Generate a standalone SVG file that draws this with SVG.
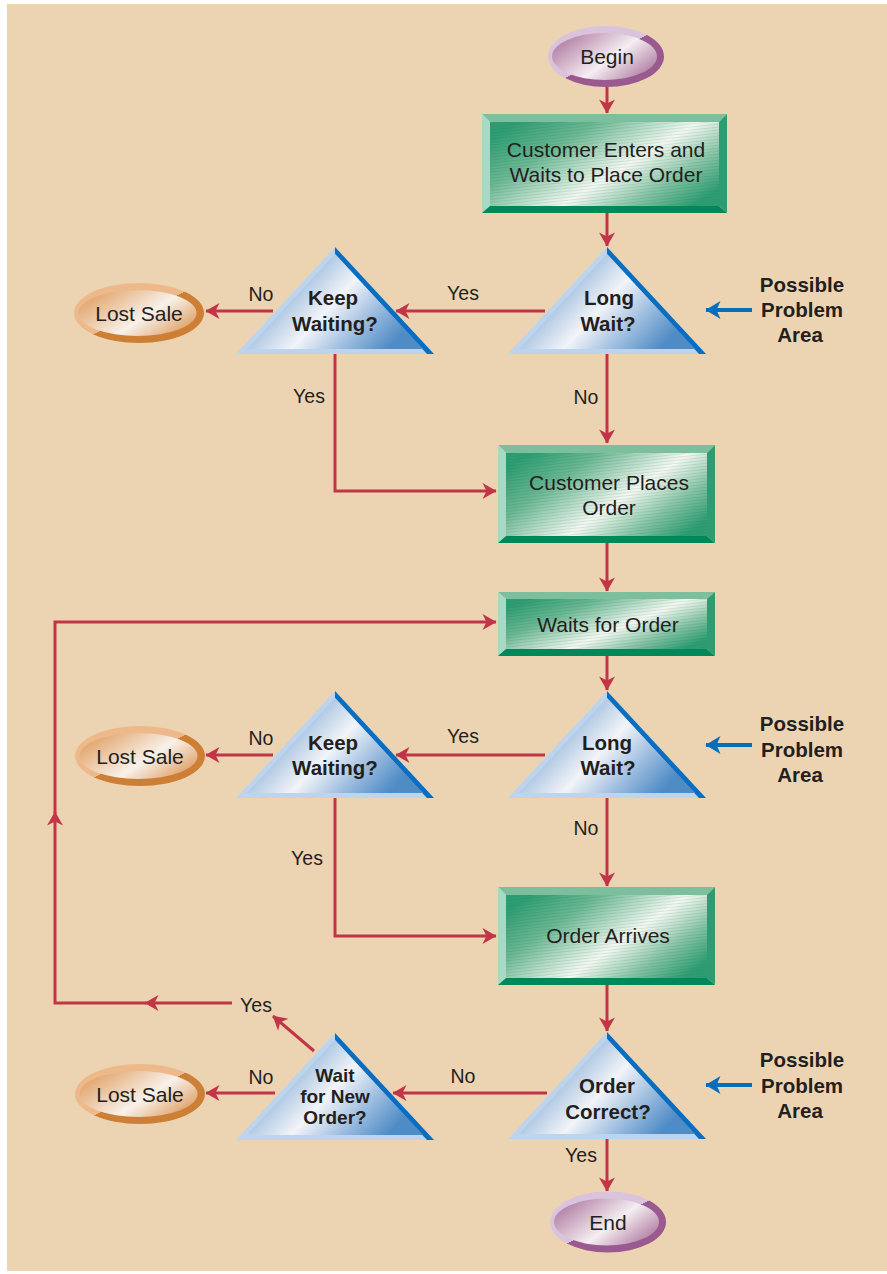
<svg xmlns="http://www.w3.org/2000/svg" xmlns:xlink="http://www.w3.org/1999/xlink" width="887" height="1274" viewBox="0 0 887 1274">
<style>
.t{font-family:"Liberation Sans",Arial,Helvetica,sans-serif;font-size:21px;fill:#231F20;text-anchor:middle}
.b{font-weight:bold;font-size:20.5px}
.s{font-size:19px}
.l{font-size:19.5px}
.c{fill:none;stroke:#C23448;stroke-width:3;marker-end:url(#ah)}
.bl{fill:none;stroke:#0A6DB8;stroke-width:4;marker-end:url(#bh)}
.bt{fill:#7DBE9C}.bl2{fill:#A9D9C4}.bb{fill:#00875A}.br{fill:#2E9B72}
.face{fill:url(#gface)}
.stripe{fill:url(#stripes)}
</style>
<defs>
<marker id="ah" markerUnits="userSpaceOnUse" markerWidth="16" markerHeight="16" viewBox="0 0 14 16" refX="13.5" refY="8" orient="auto">
<path d="M0,0 L14,8 L0,16 L4,8 Z" fill="#C23448"/>
</marker>
<marker id="bh" markerUnits="userSpaceOnUse" markerWidth="18" markerHeight="18" viewBox="0 0 15 18" refX="14.5" refY="9" orient="auto">
<path d="M0,0 L15,9 L0,18 L4,9 Z" fill="#0A6DB8"/>
</marker>
<linearGradient id="gface" x1="0" y1="0.2" x2="1" y2="0.8">
<stop offset="0" stop-color="#2F9D73"/>
<stop offset="0.25" stop-color="#6BB793"/>
<stop offset="0.58" stop-color="#F5F8F2"/>
<stop offset="0.8" stop-color="#86C3A5"/>
<stop offset="1" stop-color="#2F9D73"/>
</linearGradient>
<pattern id="stripes" patternUnits="userSpaceOnUse" width="6" height="3" patternTransform="rotate(-6)">
<rect width="6" height="1" fill="#0A6B45" fill-opacity="0.12"/>
</pattern>
<linearGradient id="gtri" x1="0" y1="0.1" x2="1" y2="0.6">
<stop offset="0" stop-color="#6E9BCD"/>
<stop offset="0.3" stop-color="#A0BEDF"/>
<stop offset="0.56" stop-color="#F2F4F8"/>
<stop offset="0.8" stop-color="#97B9DD"/>
<stop offset="1" stop-color="#4F8CC6"/>
</linearGradient>
<linearGradient id="gpRing" x1="0" y1="0" x2="1" y2="1">
<stop offset="0.5" stop-color="#DAC3DC"/>
<stop offset="0.5" stop-color="#9B5A8F"/>
</linearGradient>
<linearGradient id="gpFace" x1="0" y1="0.2" x2="1" y2="0.8">
<stop offset="0" stop-color="#AE789F"/>
<stop offset="0.56" stop-color="#F5EEF2"/>
<stop offset="1" stop-color="#AC769E"/>
</linearGradient>
<linearGradient id="goRing" x1="0" y1="0" x2="1" y2="1">
<stop offset="0.5" stop-color="#EDB98A"/>
<stop offset="0.5" stop-color="#CC7F35"/>
</linearGradient>
<linearGradient id="goFace" x1="0" y1="0.2" x2="1" y2="0.8">
<stop offset="0" stop-color="#E09F62"/>
<stop offset="0.58" stop-color="#F8F1EA"/>
<stop offset="1" stop-color="#DE9B5D"/>
</linearGradient>
<g id="tri">
<polygon points="0,0 99,107 -99,107" fill="#BCD4EE"/>
<polygon points="0,0 99,107 92,107 0,7" fill="#0A6DBF"/>
<polygon points="0,7 88,102 -88,102" fill="url(#gtri)"/>
</g>
<g id="ovalP">
<ellipse cx="0" cy="0" rx="58" ry="30.5" fill="url(#gpRing)"/>
<ellipse cx="-1.5" cy="0" rx="52.5" ry="23.5" fill="url(#gpFace)"/>
</g>
<g id="ovalO">
<ellipse cx="0" cy="0" rx="65" ry="30" fill="url(#goRing)"/>
<ellipse cx="-1.5" cy="0" rx="59" ry="23" fill="url(#goFace)"/>
</g>
</defs>

<rect x="0" y="0" width="887" height="1274" fill="#FFFFFF"/>
<rect x="7" y="4" width="880" height="1267" fill="#ECD4B2"/>

<g id="connectors">
<path class="c" d="M607,87 V113"/>
<path class="c" d="M607,213 V246"/>
<path class="c" d="M545,311 H396"/>
<path class="c" d="M273,311 H206"/>
<path class="c" d="M607,354 V443"/>
<path class="c" d="M335,354 V491 H496"/>
<path class="c" d="M607,543 V591"/>
<path class="c" d="M607,656 V690"/>
<path class="c" d="M545,755 H396"/>
<path class="c" d="M273,755 H206"/>
<path class="c" d="M607,797 V886"/>
<path class="c" d="M335,797 V936 H496"/>
<path class="c" d="M607,985 V1031"/>
<path class="c" d="M547,1093 H393"/>
<path class="c" d="M275,1093 H206"/>
<path class="c" d="M314,1051 L273,1016"/>
<path class="c" d="M232,1003 H145"/>
<path class="c" d="M146,1003 H55 V812"/>
<path class="c" d="M55,813 V622 H496"/>
<path class="c" d="M607,1138 V1191"/>
<path class="bl" d="M752,310 H706"/>
<path class="bl" d="M752,745 H706"/>
<path class="bl" d="M752,1085 H706"/>
</g>

<g id="labels">
<text class="t l" x="261" y="301">No</text>
<text class="t l" x="463" y="300">Yes</text>
<text class="t l" x="309" y="403">Yes</text>
<text class="t l" x="586" y="404">No</text>
<text class="t l" x="261" y="745">No</text>
<text class="t l" x="463" y="743">Yes</text>
<text class="t l" x="586" y="835">No</text>
<text class="t l" x="307" y="865">Yes</text>
<text class="t l" x="256" y="1012">Yes</text>
<text class="t l" x="261" y="1084">No</text>
<text class="t l" x="463" y="1083">No</text>
<text class="t l" x="581" y="1162">Yes</text>
</g>

<g id="begin" transform="translate(606,56.5)">
<use href="#ovalP"/>
<text class="t" x="1" y="7">Begin</text>
</g>

<g id="enter">
<polygon class="bt" points="482,114 727,114 719,122 490,122"/>
<polygon class="bl2" points="482,114 490,122 490,206 482,213"/>
<polygon class="bb" points="482,213 490,206 719,206 727,213"/>
<polygon class="br" points="727,114 727,213 719,206 719,122"/>
<rect class="face" x="490" y="122" width="229" height="84"/>
<rect class="stripe" x="490" y="122" width="229" height="84"/>
<text class="t" x="606" y="157">Customer Enters and</text>
<text class="t" x="606" y="182">Waits to Place Order</text>
</g>

<g id="longwait1" transform="translate(607,247)">
<use href="#tri"/>
<text class="t b" x="2" y="58">Long</text>
<text class="t b" x="1" y="84">Wait?</text>
</g>

<g id="keepwaiting1" transform="translate(335,247)">
<use href="#tri"/>
<text class="t b" x="-2" y="58">Keep</text>
<text class="t b" x="0" y="84">Waiting?</text>
</g>

<g id="lostsale1" transform="translate(139,313)">
<use href="#ovalO"/>
<text class="t" x="0" y="7.5">Lost Sale</text>
</g>

<g id="problem1">
<text class="t b" x="802" y="292">Possible</text>
<text class="t b" x="802" y="317">Problem</text>
<text class="t b" x="800" y="342">Area</text>
</g>

<g id="places">
<polygon class="bt" points="498,445 715,445 707,453 506,453"/>
<polygon class="bl2" points="498,445 506,453 506,536 498,543"/>
<polygon class="bb" points="498,543 506,536 707,536 715,543"/>
<polygon class="br" points="715,445 715,543 707,536 707,453"/>
<rect class="face" x="506" y="453" width="201" height="83"/>
<rect class="stripe" x="506" y="453" width="201" height="83"/>
<text class="t" x="609" y="490">Customer Places</text>
<text class="t" x="609" y="515">Order</text>
</g>

<g id="waits">
<polygon class="bt" points="498,592 715,592 707,599 506,599"/>
<polygon class="bl2" points="498,592 506,599 506,649 498,656"/>
<polygon class="bb" points="498,656 506,649 707,649 715,656"/>
<polygon class="br" points="715,592 715,656 707,649 707,599"/>
<rect class="face" x="506" y="599" width="201" height="50"/>
<rect class="stripe" x="506" y="599" width="201" height="50"/>
<text class="t" x="608" y="632">Waits for Order</text>
</g>

<g id="longwait2" transform="translate(607,691)">
<use href="#tri"/>
<text class="t b" x="0" y="59">Long</text>
<text class="t b" x="1" y="84">Wait?</text>
</g>

<g id="keepwaiting2" transform="translate(335,691)">
<use href="#tri"/>
<text class="t b" x="-2" y="59">Keep</text>
<text class="t b" x="0" y="84">Waiting?</text>
</g>

<g id="lostsale2" transform="translate(140,756)">
<use href="#ovalO"/>
<text class="t" x="0" y="7.5">Lost Sale</text>
</g>

<g id="problem2">
<text class="t b" x="802" y="731">Possible</text>
<text class="t b" x="802" y="757">Problem</text>
<text class="t b" x="800" y="782">Area</text>
</g>

<g id="arrives">
<polygon class="bt" points="498,887 715,887 707,895 506,895"/>
<polygon class="bl2" points="498,887 506,895 506,978 498,985"/>
<polygon class="bb" points="498,985 506,978 707,978 715,985"/>
<polygon class="br" points="715,887 715,985 707,978 707,895"/>
<rect class="face" x="506" y="895" width="201" height="83"/>
<rect class="stripe" x="506" y="895" width="201" height="83"/>
<text class="t" x="608" y="943">Order Arrives</text>
</g>

<g id="correct" transform="translate(607,1032)">
<use href="#tri"/>
<text class="t b" x="0" y="61">Order</text>
<text class="t b" x="1" y="87">Correct?</text>
</g>

<g id="waitnew" transform="translate(335,1033)">
<use href="#tri"/>
<text class="t b s" x="0" y="48.5">Wait</text>
<text class="t b s" x="0" y="69.5">for New</text>
<text class="t b s" x="0" y="90.5">Order?</text>
</g>

<g id="lostsale3" transform="translate(140,1094)">
<use href="#ovalO"/>
<text class="t" x="0" y="7.5">Lost Sale</text>
</g>

<g id="problem3">
<text class="t b" x="802" y="1067">Possible</text>
<text class="t b" x="802" y="1093">Problem</text>
<text class="t b" x="800" y="1118">Area</text>
</g>

<g id="end" transform="translate(608,1222)">
<use href="#ovalP"/>
<text class="t" x="0" y="8">End</text>
</g>
</svg>
